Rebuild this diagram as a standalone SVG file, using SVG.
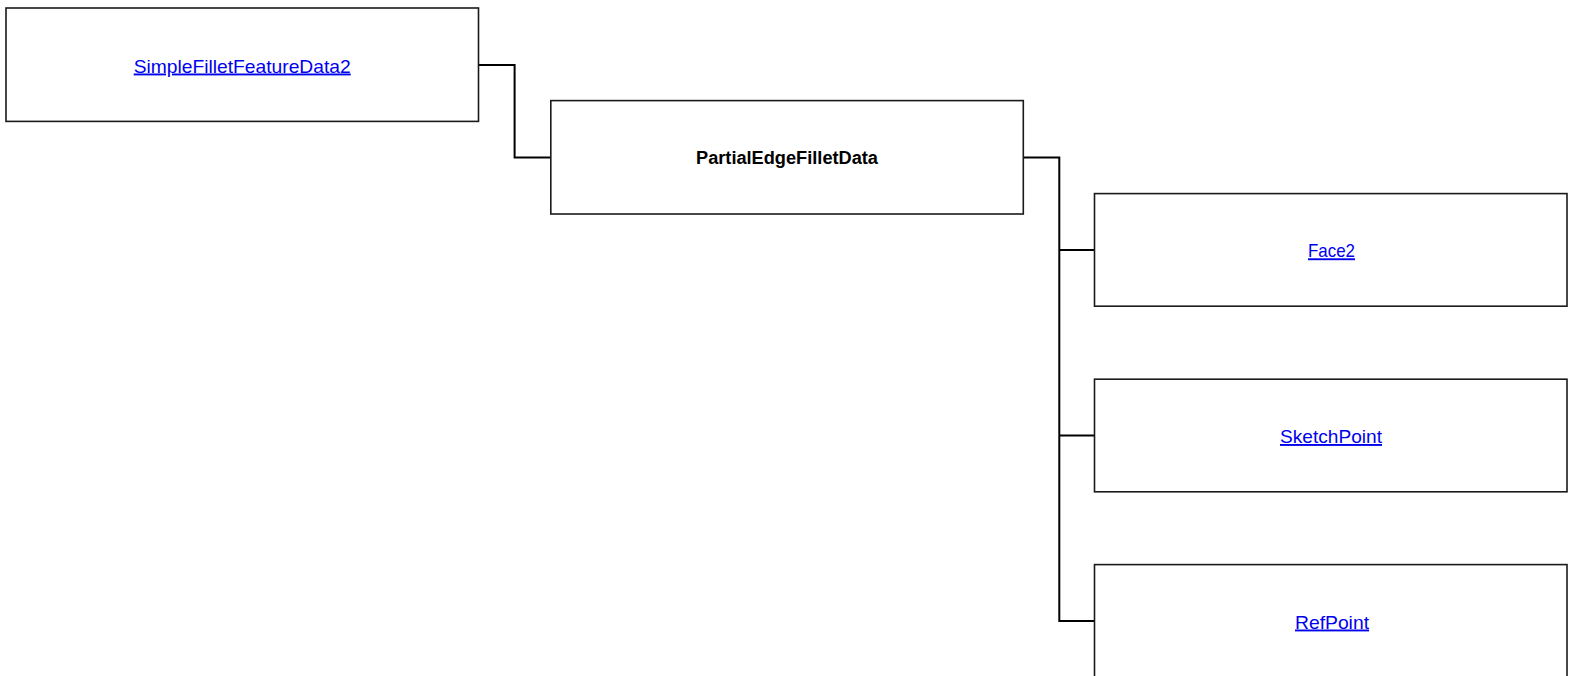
<svg xmlns="http://www.w3.org/2000/svg" width="1573" height="676" viewBox="0 0 1573 676">
<style>
.box{fill:#fff;stroke:#1a1a1a;stroke-width:1.6}
.lnk{font-family:"Liberation Sans",Arial,sans-serif;font-size:19px;fill:#0000ee;text-decoration:underline;text-anchor:middle}
.bold{font-family:"Liberation Sans",Arial,sans-serif;font-size:18px;font-weight:bold;fill:#000;text-anchor:middle}
.conn{fill:none;stroke:#000;stroke-width:2}
</style>
<rect width="1573" height="676" fill="#fff"/>
<g id="connectors">
<path class="conn" d="M478.5,65 H514.6 V157.5 H550.8"/>
<path class="conn" d="M1023.3,157.5 H1059.3 V621 H1094.5"/>
<path class="conn" d="M1059.3,250 H1094.5"/>
<path class="conn" d="M1059.3,435.5 H1094.5"/>
</g>
<g id="node-SimpleFilletFeatureData2">
<rect class="box" x="6" y="8" width="472.5" height="113.4"/>
<text class="lnk" x="242.2" y="72.5" textLength="217" lengthAdjust="spacingAndGlyphs">SimpleFilletFeatureData2</text>
</g>
<g id="node-PartialEdgeFilletData">
<rect class="box" x="550.8" y="100.6" width="472.5" height="113.4"/>
<text class="bold" x="787" y="164" textLength="182" lengthAdjust="spacingAndGlyphs">PartialEdgeFilletData</text>
</g>
<g id="node-Face2">
<rect class="box" x="1094.5" y="193.6" width="472.5" height="112.6"/>
<text class="lnk" x="1331.5" y="257.3" textLength="47" lengthAdjust="spacingAndGlyphs">Face2</text>
</g>
<g id="node-SketchPoint">
<rect class="box" x="1094.5" y="379.2" width="472.5" height="112.6"/>
<text class="lnk" x="1331" y="443" textLength="102" lengthAdjust="spacingAndGlyphs">SketchPoint</text>
</g>
<g id="node-RefPoint">
<rect class="box" x="1094.5" y="564.6" width="472.5" height="113.4"/>
<text class="lnk" x="1332" y="628.5" textLength="74" lengthAdjust="spacingAndGlyphs">RefPoint</text>
</g>
</svg>
